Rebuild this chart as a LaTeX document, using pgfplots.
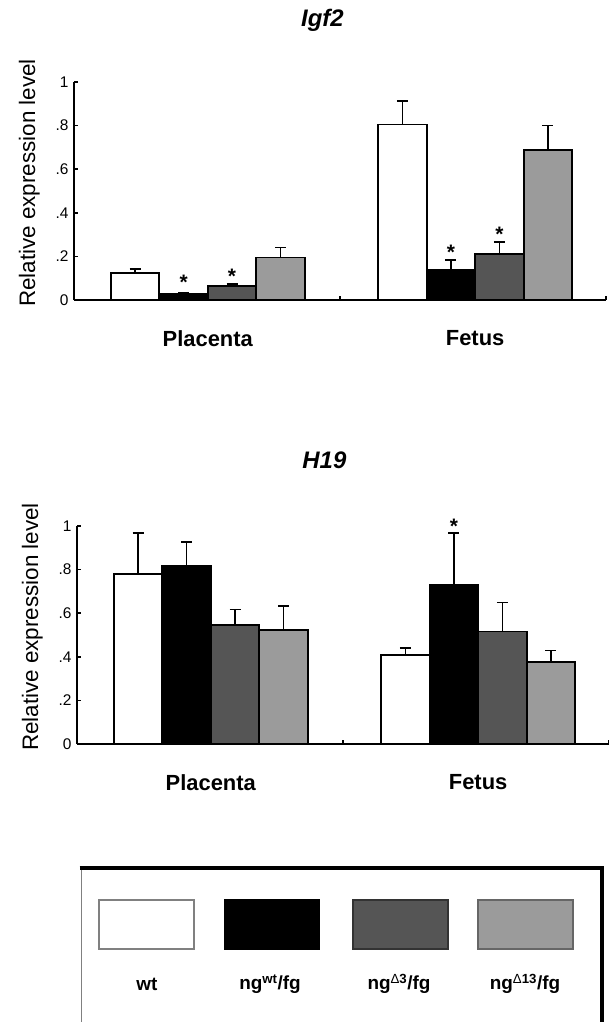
\documentclass[border=0pt]{standalone}
\usepackage{fontspec}
\setmainfont{Liberation Sans}
\usepackage{pgfplots}
\pgfplotsset{compat=1.18}
\definecolor{dg}{RGB}{85,85,85}
\definecolor{lg}{RGB}{155,155,155}
\pgfplotsset{
 mybars/.style={
  scale only axis, width=532bp, height=218bp,
  xmin=0,xmax=2,ymin=0,ymax=1,
  axis lines*=left, axis line style={line width=2bp,-},
  ybar=0pt, bar width=48.5bp,
  clip=false,
  tick align=inside,
  xtick={0.503,1.508}, xticklabels={Placenta,Fetus},
  major x tick style={draw=none},
  minor xtick={1,2}, minor tick length=4bp,
  minor x tick style={line width=1.5bp, black},
  ytick={0,0.2,0.4,0.6,0.8,1}, yticklabels={0,.2,.4,.6,.8,1},
  major tick length=4bp,
  y tick style={line width=1.5bp,black},
  xticklabel style={font=\fontsize{22}{26}\selectfont\bfseries, yshift=-27bp},
  yticklabel style={font=\fontsize{15.5}{18}\selectfont, xshift=-2bp},
  /pgf/number format/assume math mode=true,
  ylabel={Relative expression level},
  ylabel style={font=\fontsize{22.5}{26}\selectfont, at={(axis description cs:-0.084,0.537)}, anchor=center},
  title style={font=\fontsize{24}{28}\selectfont\bfseries\itshape, anchor=center},
  every axis plot/.append style={draw=black, line width=1.9bp},
  error bars/error bar style={line width=1.7bp, black},
  error bars/error mark options={line width=1.7bp, black, mark size=5.5bp, rotate=90},
 },
 star/.style={draw=none, fill=none, bar shift=0pt,
  nodes near coords={*},
  every node near coord/.append style={anchor=north, inner sep=0pt, font=\fontsize{21}{21}\selectfont\bfseries, black}},
}
\begin{document}
\begin{tikzpicture}
\useasboundingbox (0,0) rectangle (609bp,-1022bp);
% Igf2
\begin{axis}[mybars, at={(74bp,-300bp)}, anchor=south west,
  title={Igf2}, title style={at={(axis description cs:0.467,1)}, yshift=56bp}]
\addplot[fill=white, bar shift=-72.75bp, error bars/.cd, y dir=plus, y explicit]
  coordinates {(0.503,0.125) +- (0,0.018) (1.508,0.805) +- (0,0.108)};
\addplot[fill=black, bar shift=-24.25bp, error bars/.cd, y dir=plus, y explicit]
  coordinates {(0.503,0.028) +- (0,0.006) (1.508,0.140) +- (0,0.045)};
\addplot[fill=dg, bar shift=24.25bp, error bars/.cd, y dir=plus, y explicit]
  coordinates {(0.503,0.065) +- (0,0.009) (1.508,0.210) +- (0,0.056)};
\addplot[fill=lg, bar shift=72.75bp, error bars/.cd, y dir=plus, y explicit]
  coordinates {(0.503,0.195) +- (0,0.046) (1.508,0.688) +- (0,0.112)};
\addplot[star] coordinates {(0.412,0.118) (0.594,0.148) (1.417,0.258) (1.599,0.338)};
\end{axis}
% H19
\begin{axis}[mybars, at={(77bp,-744bp)}, anchor=south west,
  title={H19}, title style={at={(axis description cs:0.465,1)}, yshift=60bp}]
\addplot[fill=white, bar shift=-72.75bp, error bars/.cd, y dir=plus, y explicit]
  coordinates {(0.503,0.779) +- (0,0.190) (1.508,0.409) +- (0,0.030)};
\addplot[fill=black, bar shift=-24.25bp, error bars/.cd, y dir=plus, y explicit]
  coordinates {(0.503,0.818) +- (0,0.110) (1.508,0.730) +- (0,0.239)};
\addplot[fill=dg, bar shift=24.25bp, error bars/.cd, y dir=plus, y explicit]
  coordinates {(0.503,0.547) +- (0,0.070) (1.508,0.516) +- (0,0.133)};
\addplot[fill=lg, bar shift=72.75bp, error bars/.cd, y dir=plus, y explicit]
  coordinates {(0.503,0.525) +- (0,0.109) (1.508,0.377) +- (0,0.052)};
\addplot[star] coordinates {(1.417,1.037)};
\end{axis}
% legend
\draw[line width=1bp, gray] (81bp,-868bp) -- (81bp,-1030bp);
\draw[line width=3.5bp] (79.5bp,-868bp) -- (602bp,-868bp) -- (602bp,-1030bp);
\draw[line width=1.2bp, gray, fill=white] (99bp,-900bp) rectangle (194bp,-949bp);
\draw[line width=1.2bp, black, fill=black] (225bp,-900bp) rectangle (319bp,-949bp);
\draw[line width=1.2bp, black!80, fill=dg] (353bp,-900bp) rectangle (448bp,-949bp);
\draw[line width=1.2bp, black!60, fill=lg] (478bp,-900bp) rectangle (573bp,-949bp);
\begin{scope}[every node/.style={font=\fontsize{19}{22}\selectfont\bfseries}]
\node at (147bp,-984bp) {wt};
\node at (270bp,-984bp) {ng\textsuperscript{wt}/fg};
\node at (399bp,-984bp) {ng\textsuperscript{{\mdseries Δ}3}/fg};
\node at (525bp,-984bp) {ng\textsuperscript{{\mdseries Δ}13}/fg};
\end{scope}
\end{tikzpicture}
\end{document}
